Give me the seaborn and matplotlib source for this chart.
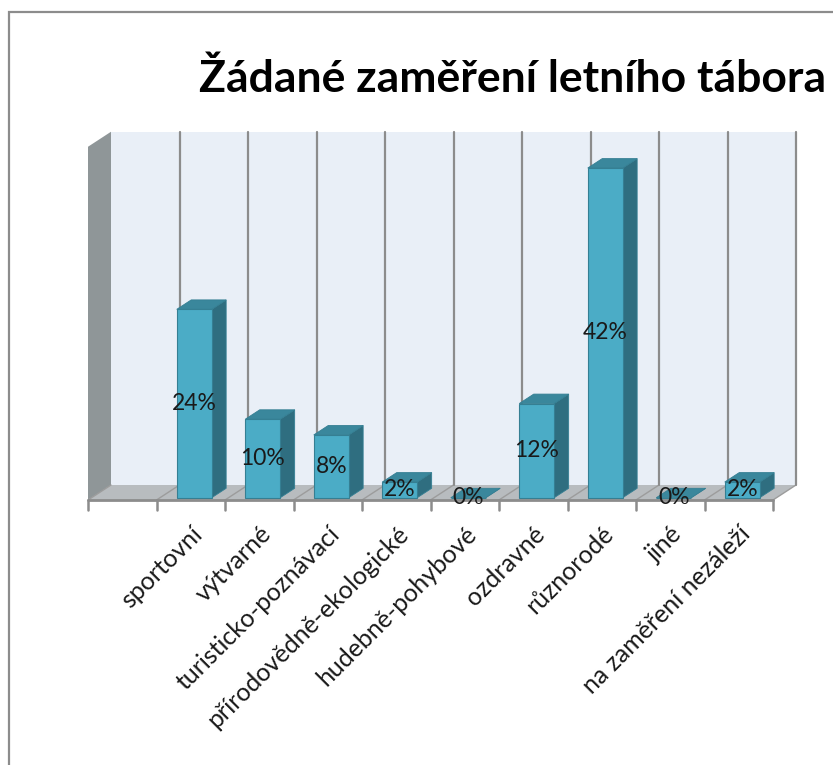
import numpy as np
import pandas as pd
import matplotlib
matplotlib.use("Agg")
import matplotlib.pyplot as plt
import seaborn as sns
from matplotlib.patches import Polygon, Rectangle
from matplotlib.lines import Line2D

# ---- data ----
title = "Žádané zaměření letního tábora"
categories = ["sportovní", "výtvarné", "turisticko-poznávací", "přírodovědně-ekologické",
              "hudebně-pohybové", "ozdravné", "různorodé", "jiné", "na zaměření nezáleží"]
values = [24, 10, 8, 2, 0, 12, 42, 0, 2]
y_max = 45

sns.set_theme(style="white")
plt.rcParams["font.family"] = ["Lato", "DejaVu Sans"]

W, H = 833, 765
fig = plt.figure(figsize=(W / 100, H / 100), dpi=100)
fig.patch.set_facecolor("white")

# front plane geometry (pixels)
x_left_px, x_right_px = 88, 773
y_base_px, y_top_px = 500, 146.75
ax = fig.add_axes([x_left_px / W, 1 - y_base_px / H,
                   (x_right_px - x_left_px) / W, (y_base_px - y_top_px) / H])

df = pd.DataFrame({"cat": categories, "val": values})
FRONT = "#4BACC6"
SIDE = "#2F6E80"
TOP = "#3A879C"
EDGE = "#357F93"
sns.barplot(data=df, x="cat", y="val", ax=ax, color=FRONT, saturation=1,
            width=0.51, edgecolor=EDGE, linewidth=0.8, zorder=5)

n = len(categories)
xmin, xmax = -0.5 - 1, n - 0.5
ax.set_xlim(xmin, xmax)
ax.set_ylim(0, y_max)
ax.set_facecolor("none")
for s in ax.spines.values():
    s.set_visible(False)
ax.set_yticks([])
ax.set_xlabel("")
ax.set_ylabel("")

sx = (x_right_px - x_left_px) / (xmax - xmin)
sy = (y_base_px - y_top_px) / y_max
DX = 23 / sx
DY = 15 / sy

def P(x, y, d):
    return (x + d * DX, y + d * DY)

def poly(pts, fc, z, ec="none", lw=0):
    ax.add_patch(Polygon(pts, closed=True, fc=fc, ec=ec, lw=lw, zorder=z, clip_on=False))

# walls and floor
poly([P(xmin, 0, 1), P(xmax, 0, 1), P(xmax, y_max, 1), P(xmin, y_max, 1)], "#E9EFF7", 0)
poly([P(xmin, 0, 0), P(xmin, 0, 1), P(xmin, y_max, 1), P(xmin, y_max, 0)], "#8F9698", 1)
poly([P(xmin, 0, 0), P(xmax, 0, 0), P(xmax, 0, 1), P(xmin, 0, 1)], "#B8BCBF", 1)

# gridlines
for k in range(n + 2):
    xk = xmin + k
    a, b = P(xk, 0, 0), P(xk, 0, 1)
    ax.add_line(Line2D([a[0], b[0]], [a[1], b[1]], color="#9C9C9C", lw=1.0, zorder=2, clip_on=False))
    if k >= 1:
        a, b = P(xk, 0, 1), P(xk, y_max, 1)
        ax.add_line(Line2D([a[0], b[0]], [a[1], b[1]], color="#8C8C8C", lw=1.6, zorder=2, clip_on=False))
    ax.add_line(Line2D([xk, xk], [0, -10 / sy], color="#8C8C8C", lw=1.8, zorder=3, clip_on=False))
ax.add_line(Line2D([xmin, xmax], [0, 0], color="#8C8C8C", lw=2.0, zorder=3, clip_on=False))

# 3D bars
d0, d1 = 0.15, 0.78
for p, v in zip(ax.patches[:n], values):
    x0, w, h = p.get_x(), p.get_width(), p.get_height()
    p.set_x(x0 + d0 * DX)
    p.set_y(d0 * DY)
    p.set_clip_on(False)
    poly([P(x0 + w, 0, d0), P(x0 + w, 0, d1), P(x0 + w, h, d1), P(x0 + w, h, d0)], SIDE, 4, EDGE, 0.6)
    poly([P(x0, h, d0), P(x0 + w, h, d0), P(x0 + w, h, d1), P(x0, h, d1)], TOP, 4, EDGE, 0.6)
    cx, cy = P(x0 + w / 2, h / 2, d0)
    ax.text(cx, cy, f"{v}%", ha="center", va="center", fontsize=16.5, color="#1a1a1a",
            zorder=10, clip_on=False)

ax.set_xticks(np.arange(n))
ax.set_xticklabels(categories, rotation=45, ha="right", rotation_mode="anchor",
                   fontsize=18, color="#1a1a1a")
ax.tick_params(axis="x", length=0, pad=16, labelsize=18)

fig.text(199 / W, 1 - 92 / H, title, fontsize=32, fontweight="bold", ha="left",
         va="baseline", color="black")

fig.add_artist(Rectangle((9 / W, -0.1), 1.2, (1 - 12 / H) + 0.1, transform=fig.transFigure,
                         fill=False, ec="#8C8C8C", lw=1.6))

fig.savefig("out.png", dpi=100)
